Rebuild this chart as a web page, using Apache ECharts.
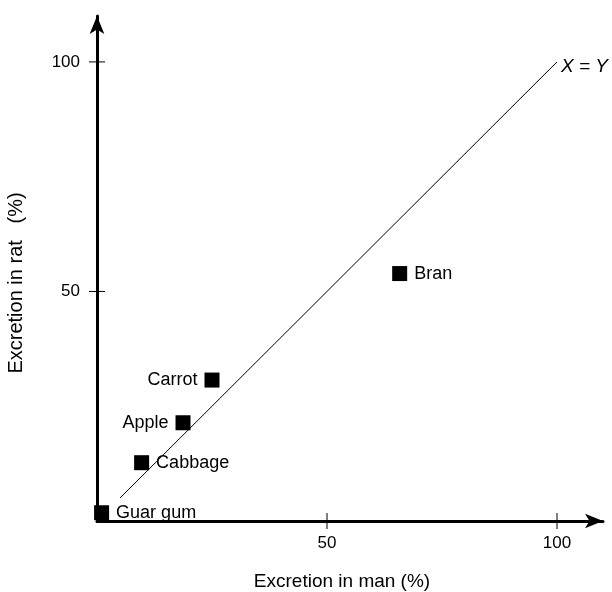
<!DOCTYPE html>
<html>
<head>
<meta charset="utf-8">
<script src="https://cdn.jsdelivr.net/npm/echarts@6/dist/echarts.min.js"></script>
<style>html,body{margin:0;padding:0;background:#fff;}#c{width:612px;height:592px;}</style>
</head>
<body>
<div id="c"></div>
<script>
var names = ['Guar gum', 'Cabbage', 'Apple', 'Carrot', 'Bran'];
var manValues = [1, 9.7, 18.7, 25, 65.8];
var ratValues = [1.8, 12.7, 21.4, 30.7, 53.9];
var labelSides = ['right', 'right', 'left', 'left', 'right'];
var identityLine = [[5, 5], [100, 100]];
var tickValues = [50, 100];

var FONT = 'Liberation Sans';
var chart = echarts.init(document.getElementById('c'), null, {renderer: 'canvas'});

var points = names.map(function (n, i) {
  return {
    name: n,
    value: [manValues[i], ratValues[i]],
    label: {show: true, position: labelSides[i], distance: 7, formatter: n,
            color: '#000', fontSize: 18, fontFamily: FONT}
  };
});

function mainAxis(pos, margin) {
  return {
    type: 'value', min: 0, max: 110, position: pos, offset: 0,
    axisLine: {show: true, onZero: false,
               lineStyle: {color: '#000', width: 3},
               symbol: ['none', 'arrow'], symbolSize: [11, 18]},
    axisTick: {show: false},
    axisLabel: {show: true, customValues: tickValues, color: '#000',
                fontSize: 17, fontFamily: FONT, margin: margin},
    splitLine: {show: false}
  };
}

// crossing tick marks drawn at the tick values through the axis scales
function tickSeries(isX) {
  return {
    type: 'custom', silent: true, clip: false, z: 5,
    data: tickValues.map(function (v) { return [v]; }),
    renderItem: function (params, api) {
      var v = api.value(0);
      var p = isX ? api.coord([v, 0]) : api.coord([0, v]);
      var half = 8;
      var shape = isX
        ? {x1: p[0], y1: p[1] - half, x2: p[0], y2: p[1] + half}
        : {x1: p[0] - half, y1: p[1], x2: p[0] + half, y2: p[1]};
      return {type: 'line', shape: shape, style: {stroke: '#000', lineWidth: 1}};
    }
  };
}

chart.setOption({
  animation: false,
  backgroundColor: '#fff',
  grid: {left: 97, top: 16, width: 506, height: 505, containLabel: false},
  xAxis: mainAxis('bottom', 14),
  yAxis: mainAxis('left', 17),
  graphic: [
    {type: 'text', style: {text: 'Excretion in man (%)', x: 342, y: 582,
      textAlign: 'center', textVerticalAlign: 'middle', fill: '#000', fontSize: 19, fontFamily: FONT}},
    {type: 'text', x: 16, y: 283, rotation: Math.PI / 2,
      style: {text: 'Excretion in rat   (%)', textAlign: 'center', textVerticalAlign: 'middle',
      fill: '#000', fontSize: 20, fontFamily: FONT}}
  ],
  series: [
    {
      type: 'line', data: identityLine, symbol: 'none', silent: true,
      lineStyle: {color: '#000', width: 1},
      endLabel: {show: true, formatter: 'X = Y', color: '#000', fontSize: 19,
                 fontStyle: 'italic', fontFamily: FONT, distance: 4, offset: [0, 5]}
    },
    {
      type: 'scatter', symbol: 'rect', symbolSize: 15, data: points,
      itemStyle: {color: '#000', opacity: 1}
    },
    tickSeries(true),
    tickSeries(false)
  ]
});
</script>
</body>
</html>
